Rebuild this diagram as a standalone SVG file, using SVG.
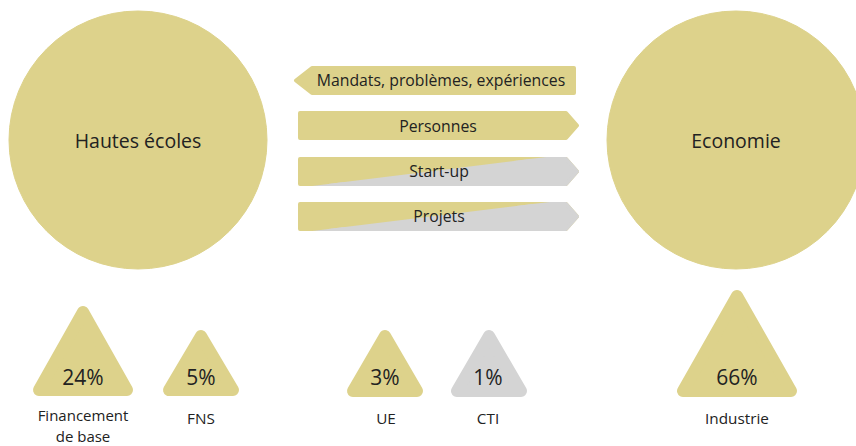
<svg xmlns="http://www.w3.org/2000/svg" width="856" height="446" viewBox="0 0 856 446">
  <style>
    .gold { fill: #ddd28b; stroke: #ddd28b; }
    .grey { fill: #d4d4d4; stroke: #d4d4d4; }
    .arrow { stroke-width: 4; stroke-linejoin: round; }
    .tri { stroke-width: 12; stroke-linejoin: round; }
    text { font-family: "Open Sans", "Noto Sans", sans-serif; fill: #222; text-anchor: middle; }
    .big { font-size: 19.5px; }
    .flow { font-size: 15.8px; }
    .pct { font-size: 21px; }
    .lbl { font-size: 15.3px; }
    .sm { font-size: 15px; }
  </style>
  <defs>
    <path id="arrowRight" d="M300,0 H566 L577,12.5 L566,25 H300 Z"/>
    <clipPath id="splitStart"><polygon points="296,188 562,155 600,155 600,192 296,192"/></clipPath>
    <clipPath id="splitProj"><polygon points="296,233 566,200 600,200 600,237 296,237"/></clipPath>
  </defs>

  <!-- Main actors -->
  <g id="hautes-ecoles">
    <circle cx="138" cy="140" r="129" class="gold" stroke="none"/>
    <text x="138" y="148" class="big">Hautes écoles</text>
  </g>
  <g id="economie">
    <circle cx="736" cy="140" r="129" class="gold" stroke="none"/>
    <text x="736" y="148" class="big">Economie</text>
  </g>

  <!-- Exchanges between the two actors -->
  <g id="connectors">
    <g id="flow-mandats">
      <path class="gold arrow" d="M574,68 V93 H312 L296,80.5 L312,68 Z"/>
      <text x="441" y="86" class="flow">Mandats, problèmes, expériences</text>
    </g>
    <g id="flow-personnes">
      <use href="#arrowRight" class="gold arrow" y="113"/>
      <text x="438" y="132" class="flow">Personnes</text>
    </g>
    <g id="flow-startup">
      <use href="#arrowRight" class="gold arrow" y="159"/>
      <g clip-path="url(#splitStart)">
        <use href="#arrowRight" class="grey arrow" y="159"/>
      </g>
      <text x="439" y="177" class="flow">Start-up</text>
    </g>
    <g id="flow-projets">
      <use href="#arrowRight" class="gold arrow" y="204"/>
      <g clip-path="url(#splitProj)">
        <use href="#arrowRight" class="grey arrow" y="204"/>
      </g>
      <text x="439" y="222" class="flow">Projets</text>
    </g>
  </g>

  <!-- Funding shares -->
  <g id="financement-base">
    <polygon class="gold tri" points="83,312 39,390 127,390"/>
    <text x="83" y="385" class="pct">24%</text>
    <text x="83" y="421" class="sm">Financement</text>
    <text x="83" y="441.5" class="sm">de base</text>
  </g>
  <g id="fns">
    <polygon class="gold tri" points="201,336 169,390 233,390"/>
    <text x="201" y="424" class="lbl">FNS</text>
    <text x="201" y="385" class="pct">5%</text>
  </g>
  <g id="ue">
    <polygon class="gold tri" points="385,336 353,391 417,391"/>
    <text x="385" y="385" class="pct">3%</text>
    <text x="386" y="424" class="lbl">UE</text>
  </g>
  <g id="cti">
    <polygon class="grey tri" points="489,336 457,391 521,391"/>
    <text x="488" y="385" class="pct">1%</text>
    <text x="488" y="424" class="lbl">CTI</text>
  </g>
  <g id="industrie">
    <polygon class="gold tri" points="737,296 683,391 791,391"/>
    <text x="737" y="385" class="pct">66%</text>
    <text x="737" y="424" class="lbl">Industrie</text>
  </g>
</svg>
